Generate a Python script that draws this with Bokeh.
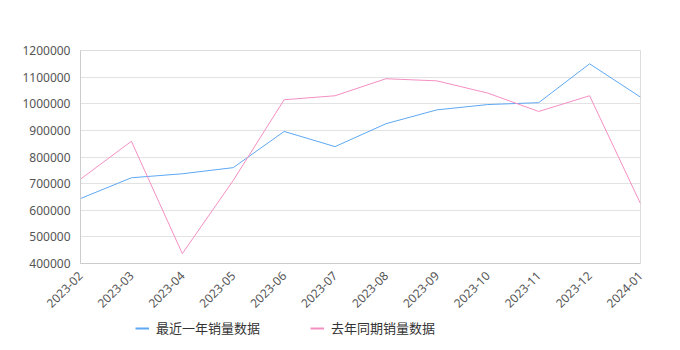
import math
from bokeh.plotting import figure
from bokeh.layouts import column
from bokeh.models import FixedTicker, Range1d, Legend, LegendItem, NumeralTickFormatter
from bokeh.embed import file_html
from bokeh.resources import INLINE

months = ["2023-02", "2023-03", "2023-04", "2023-05", "2023-06", "2023-07",
          "2023-08", "2023-09", "2023-10", "2023-11", "2023-12", "2024-01"]
recent = [644000, 722000, 737000, 760000, 896000, 839000,
          925000, 977000, 997000, 1004000, 1150000, 1025000]
last_year = [717000, 859000, 437000, 712000, 1015000, 1030000,
             1094000, 1086000, 1040000, 971000, 1030000, 625000]
y_ticks = [400000, 500000, 600000, 700000, 800000, 900000, 1000000, 1100000, 1200000]
series_names = ["最近一年销量数据", "去年同期销量数据"]

FONT = "Noto Sans"
CJK = "Noto Sans CJK SC"
BLUE = "#5ea8f4"
PINK = "#f48fc2"

xs = list(range(len(months)))

p = figure(width=680, height=314, output_backend="svg", toolbar_location=None,
           x_range=Range1d(0, len(months) - 1), y_range=Range1d(400000, 1200000),
           min_border_left=80, min_border_right=40, min_border_top=50, min_border_bottom=47)
p.background_fill_color = "white"
p.border_fill_color = "white"
p.outline_line_color = "#dddddd"

p.line(xs, recent, line_color=BLUE, line_width=1)
p.line(xs, last_year, line_color=PINK, line_width=1)

p.xaxis.ticker = FixedTicker(ticks=xs)
p.xaxis.major_label_overrides = {i: m for i, m in enumerate(months)}
p.xaxis.major_label_orientation = math.pi / 4
p.yaxis.ticker = FixedTicker(ticks=y_ticks)
p.yaxis.formatter = NumeralTickFormatter(format="0")

for ax in (p.xaxis, p.yaxis):
    ax.axis_line_color = "#cccccc"
    ax.major_tick_line_color = None
    ax.minor_tick_line_color = None
    ax.major_label_text_color = "#555555"
    ax.major_label_text_font = FONT
    ax.major_label_text_font_size = "12px"
p.yaxis.major_label_standoff = 4
p.xaxis.major_label_standoff = 4

p.xgrid.grid_line_color = None
p.ygrid.grid_line_color = "#e3e3e3"

# legend strip below the chart
lg = figure(width=680, height=36, output_backend="svg", toolbar_location=None,
            x_range=Range1d(0, 1), y_range=Range1d(0, 1),
            min_border=0, min_border_left=0, min_border_right=0,
            min_border_top=0, min_border_bottom=0)
lg.axis.visible = False
lg.grid.visible = False
lg.outline_line_color = None
lg.background_fill_color = "white"
lg.border_fill_color = "white"
d1 = lg.line([5, 6], [5, 6], line_color=BLUE, line_width=2)
d2 = lg.line([5, 6], [5, 6], line_color=PINK, line_width=2)

legend = Legend(items=[LegendItem(label=series_names[0], renderers=[d1]),
                       LegendItem(label=series_names[1], renderers=[d2])],
                orientation="horizontal", location=(55, 13),
                spacing=50, padding=0, margin=0,
                glyph_width=14, glyph_height=14, label_standoff=7,
                label_text_font=CJK, label_text_font_size="13px",
                label_text_color="#333333",
                background_fill_alpha=0, border_line_color=None)
lg.add_layout(legend, "center")

layout = column(p, lg, spacing=0)
open("out.html", "w").write(file_html(layout, INLINE))
